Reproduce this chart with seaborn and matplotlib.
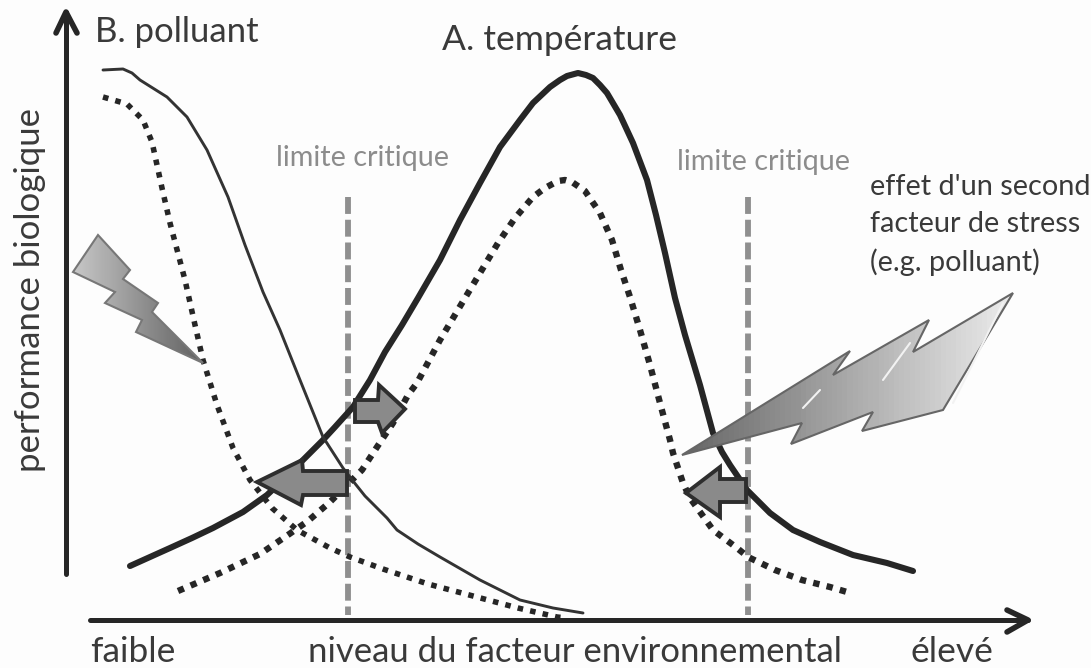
import numpy as np
import pandas as pd
import matplotlib
matplotlib.use("Agg")
import matplotlib.pyplot as plt
from matplotlib.patches import Polygon
import seaborn as sns

# curves (pixel position in the reference)
temp_x = [130, 150, 170, 192, 213, 243, 267, 285, 303, 323, 335, 353, 370, 385, 402, 418, 440, 460, 480, 500, 520, 533, 550, 560, 567, 578, 586, 593, 600, 607, 620, 633, 647, 656, 665, 675, 685, 700, 713, 722, 730, 747, 770, 793, 820, 853, 887, 913]
temp_y = [566, 557, 548, 538, 528, 512, 495, 478, 460, 440, 427, 407, 380, 352, 325, 298, 260, 220, 183, 147, 120, 103, 87, 80, 76, 73, 75, 78, 85, 93, 115, 143, 180, 215, 253, 298, 335, 385, 433, 452, 465, 490, 513, 530, 542, 555, 563, 571]
temp_dot_x = [178, 220, 260, 285, 308, 330, 362, 377, 393, 408, 417, 440, 468, 483, 498, 515, 533, 545, 558, 565, 572, 585, 600, 612, 621, 630, 640, 650, 660, 670, 673, 683, 690, 713, 737, 748, 775, 802, 830, 847]
temp_dot_y = [591, 573, 554, 537, 521, 502, 470, 447, 423, 395, 383, 340, 293, 268, 243, 218, 197, 188, 181, 180, 182, 191, 213, 240, 270, 297, 330, 365, 403, 440, 453, 483, 498, 530, 548, 557, 570, 580, 587, 592]
poll_x = [103, 123, 132, 140, 167, 187, 207, 228, 245, 263, 280, 300, 323, 343, 353, 365, 387, 397, 418, 440, 480, 520, 553, 583]
poll_y = [70, 69, 73, 80, 97, 117, 150, 197, 245, 292, 330, 380, 437, 468, 481, 496, 518, 530, 544, 557, 580, 600, 608, 613]
poll_dot_x = [103, 127, 143, 152, 157, 162, 170, 185, 195, 203, 217, 233, 250, 272, 297, 330, 350, 383, 428, 473, 518, 557, 567]
poll_dot_y = [97, 104, 120, 142, 165, 188, 223, 280, 325, 360, 405, 448, 480, 508, 530, 548, 557, 569, 584, 596, 608, 617, 618]

critical_x = [348, 748]
critical_top = 197
critical_bottom = 615

# lightning bolts and small arrows
bolt_small_x = [98, 130, 123, 158, 152, 203, 136, 142, 105, 115, 73]
bolt_small_y = [235, 270, 279, 303, 312, 363, 332, 320, 303, 292, 272]
bolt_big_x = [682, 850, 833, 929, 913, 1013, 943, 862, 873, 791, 802]
bolt_big_y = [455, 351, 375, 320, 352, 293, 410, 431, 412, 444, 423]
arrow_right_x = [355, 378, 379, 405, 382, 378, 355]
arrow_right_y = [400, 400, 385, 409, 433, 422, 422]
arrow_left_x = [257, 302, 303, 347, 347, 303, 301]
arrow_left_y = [482, 460, 471, 471, 495, 495, 505]
arrow_third_x = [686, 720, 720, 746, 746, 720, 720]
arrow_third_y = [493, 467, 479, 479, 502, 502, 517]

sns.set_theme(style="white")
plt.rcParams['font.family'] = ['Lato', 'DejaVu Sans']

fig = plt.figure(figsize=(10.91, 6.68), dpi=100)
fig.patch.set_facecolor('#fdfdfd')
ax = fig.add_axes([0, 0, 1, 1])
ax.set_xlim(0, 1091)
ax.set_ylim(668, 0)
ax.axis('off')


def curve(x, y, **kw):
    df = pd.DataFrame({'x': x, 'y': y})
    sns.lineplot(data=df, x='x', y='y', sort=False, estimator=None, ax=ax, legend=False, **kw)


def shape(x, y, left, right, edge, lw=1.5):
    # polygon filled with a horizontal grey gradient
    poly = Polygon(np.column_stack([x, y]), closed=True, fc='none', ec=edge, lw=lw, zorder=6)
    ax.add_patch(poly)
    grad = np.linspace(left, right, 64).reshape(1, -1)
    im = ax.imshow(grad, cmap='gray', vmin=0, vmax=1, aspect='auto', zorder=5,
                   extent=[min(x), max(x), max(y), min(y)])
    im.set_clip_path(poly)


for cx in critical_x:
    ax.plot([cx, cx], [critical_top, critical_bottom], color='#8f8f8f', lw=4.2, dashes=(2.9, 1), zorder=1)

curve(temp_x, temp_y, color='#262626', lw=4.4, zorder=3, solid_joinstyle='round')
curve(temp_dot_x, temp_dot_y, color='#262626', lw=4.6, dashes=(1, 1.15), zorder=3)
curve(poll_x, poll_y, color='#333333', lw=2.1, zorder=3, solid_joinstyle='round')
curve(poll_dot_x, poll_dot_y, color='#262626', lw=4.0, dashes=(1, 1.3), zorder=3)
ax.set_xlim(0, 1091)
ax.set_ylim(668, 0)

# axis arrows
ax.plot([66, 66], [12, 574], color='#262626', lw=3.6, zorder=4)
ax.plot([56, 66, 77], [33, 12, 33], color='#262626', lw=4, zorder=4)
ax.plot([90, 1028], [620, 620], color='#262626', lw=3.6, zorder=4)
ax.plot([1007, 1028, 1007], [610, 620, 632], color='#262626', lw=4, zorder=4)

shape(bolt_small_x, bolt_small_y, 0.78, 0.38, '#777777')
shape(bolt_big_x, bolt_big_y, 0.4, 0.92, '#666666')
# thin light highlights on the big bolt
for hx, hy in [([803, 820], [408, 390]), ([883, 910], [380, 343]), ([1003, 953], [303, 403])]:
    ax.plot(hx, hy, color='#f2f2f2', lw=1.5, zorder=6)
for ax_x, ax_y in [(arrow_right_x, arrow_right_y), (arrow_left_x, arrow_left_y), (arrow_third_x, arrow_third_y)]:
    ax.add_patch(Polygon(np.column_stack([ax_x, ax_y]), closed=True, fc='#8a8a8a', ec='#2e2e2e', lw=2.8, zorder=7))

txt = '#3a3a3a'
ax.text(95, 32, 'B. polluant', fontsize=25, color=txt, ha='left', va='center')
ax.text(442, 40, 'A. température', fontsize=25.5, color=txt, ha='left', va='center')
ax.text(30, 290, 'performance biologique', fontsize=25, color=txt, rotation=90, ha='center', va='center')
ax.text(276, 158, 'limite critique', fontsize=20.7, color='#8c8c8c', ha='left', va='center')
ax.text(677, 162, 'limite critique', fontsize=20.7, color='#8c8c8c', ha='left', va='center')
ax.text(870, 187, "effet d'un second", fontsize=20.8, color=txt, ha='left', va='center')
ax.text(870, 224, 'facteur de stress', fontsize=20.8, color=txt, ha='left', va='center')
ax.text(870, 262, '(e.g. polluant)', fontsize=20.8, color=txt, ha='left', va='center')
ax.text(90, 652, 'faible', fontsize=25.5, color=txt, ha='left', va='center')
ax.text(308, 652, 'niveau du facteur environnemental', fontsize=25, color=txt, ha='left', va='center')
ax.text(910, 652, 'élevé', fontsize=25.5, color=txt, ha='left', va='center')

plt.savefig('out.png', dpi=100, facecolor=fig.get_facecolor())
